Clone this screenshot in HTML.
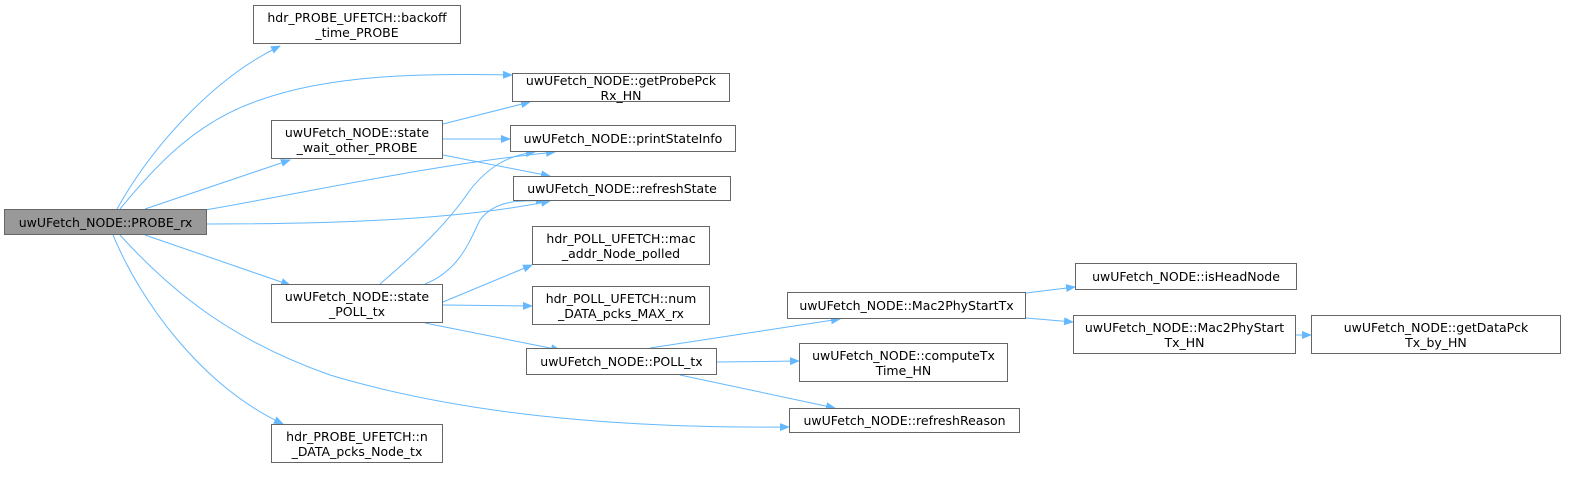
<!DOCTYPE html>
<html><head><style>
body{margin:0;background:#fff;}
.n{position:absolute;border:1px solid #666;background:#fff;box-sizing:border-box;font-family:"DejaVu Sans","Liberation Sans",sans-serif;font-size:12.5px;color:#000;text-align:center;line-height:15px;display:flex;align-items:center;justify-content:center;white-space:nowrap;}
</style></head><body>
<div style="position:relative;width:1579px;height:501px;overflow:hidden">
<svg width="1579" height="501" style="position:absolute;left:0;top:0">
<defs><marker id="a" markerWidth="10" markerHeight="8" refX="9" refY="4" orient="auto" markerUnits="userSpaceOnUse"><path d="M0,0 L10,4 L0,8z" fill="#63b8ff"/></marker></defs>
<g fill="none" stroke="#63b8ff" stroke-width="1" marker-end="url(#a)">
<path d="M117,209 C150,150 210,80 280,46"/>
<path d="M120,209 C160,160 200,120 260,100 C330,75 420,73 512,75"/>
<path d="M145,209 L290,160"/>
<path d="M205,210 C320,190 430,165 555,152"/>
<path d="M207,224 C300,224 450,222 550,201"/>
<path d="M145,235 L290,285"/>
<path d="M120,235 C170,290 230,340 330,375 C480,420 650,428 789,427"/>
<path d="M113,235 C140,300 200,385 283,424"/>
<path d="M443,124 L530,102"/>
<path d="M443,139 L510,139"/>
<path d="M443,155 L550,176"/>
<path d="M380,284 C420,250 450,220 470,190 C490,165 510,155 535,152"/>
<path d="M425,284 C460,270 470,240 480,220 C495,200 520,200 545,201"/>
<path d="M443,302 L532,265"/>
<path d="M443,305 L532,306"/>
<path d="M425,323 L560,350"/>
<path d="M650,348 L840,319"/>
<path d="M717,362 L799,361"/>
<path d="M680,375 L835,408"/>
<path d="M1026,293 L1075,287"/>
<path d="M1026,318 L1073,322"/>
<path d="M1296,335 L1311,335"/>
</g></svg>
<div class="n" style="left:4px;top:209px;width:203px;height:26px;background:#999">uwUFetch_NODE::PROBE_rx</div>
<div class="n" style="left:253px;top:5px;width:208px;height:39px">hdr_PROBE_UFETCH::backoff<br>_time_PROBE</div>
<div class="n" style="left:512px;top:73px;width:218px;height:29px">uwUFetch_NODE::getProbePck<br>Rx_HN</div>
<div class="n" style="left:510px;top:125px;width:226px;height:27px">uwUFetch_NODE::printStateInfo</div>
<div class="n" style="left:513px;top:176px;width:218px;height:25px">uwUFetch_NODE::refreshState</div>
<div class="n" style="left:271px;top:120px;width:172px;height:39px">uwUFetch_NODE::state<br>_wait_other_PROBE</div>
<div class="n" style="left:271px;top:284px;width:172px;height:39px">uwUFetch_NODE::state<br>_POLL_tx</div>
<div class="n" style="left:532px;top:226px;width:178px;height:39px">hdr_POLL_UFETCH::mac<br>_addr_Node_polled</div>
<div class="n" style="left:532px;top:286px;width:178px;height:39px">hdr_POLL_UFETCH::num<br>_DATA_pcks_MAX_rx</div>
<div class="n" style="left:526px;top:348px;width:191px;height:27px">uwUFetch_NODE::POLL_tx</div>
<div class="n" style="left:271px;top:424px;width:172px;height:39px">hdr_PROBE_UFETCH::n<br>_DATA_pcks_Node_tx</div>
<div class="n" style="left:787px;top:292px;width:239px;height:27px">uwUFetch_NODE::Mac2PhyStartTx</div>
<div class="n" style="left:1075px;top:263px;width:222px;height:27px">uwUFetch_NODE::isHeadNode</div>
<div class="n" style="left:1073px;top:315px;width:223px;height:39px">uwUFetch_NODE::Mac2PhyStart<br>Tx_HN</div>
<div class="n" style="left:1311px;top:315px;width:250px;height:39px">uwUFetch_NODE::getDataPck<br>Tx_by_HN</div>
<div class="n" style="left:799px;top:343px;width:209px;height:39px">uwUFetch_NODE::computeTx<br>Time_HN</div>
<div class="n" style="left:789px;top:408px;width:231px;height:25px">uwUFetch_NODE::refreshReason</div>
</div>
</body></html>
